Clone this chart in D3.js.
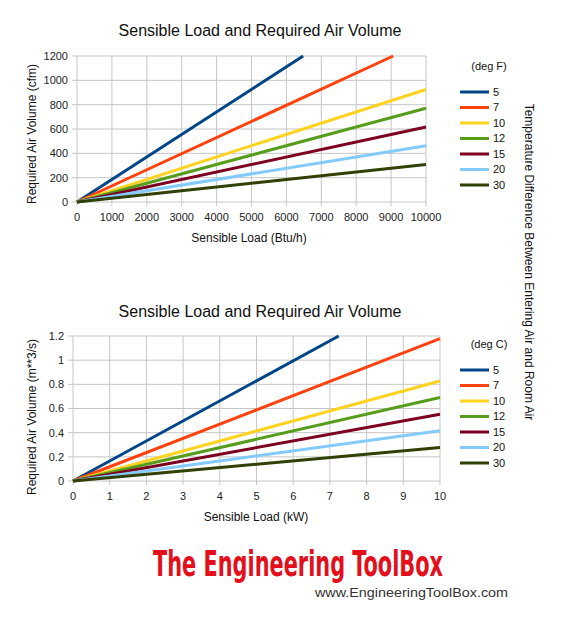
<!DOCTYPE html>
<html>
<head>
<meta charset="utf-8">
<script src="https://cdn.jsdelivr.net/npm/d3@7"></script>
<style>
  body { margin: 0; background: #fff; }
  svg { display: block; font-family: "Liberation Sans", Arial, sans-serif; }
</style>
</head>
<body>
<svg id="chart" width="562" height="636"></svg>
<script>
// Series: temperature differences and the end point of each straight line (all start at 0,0)
const tempDiff = ["5", "7", "10", "12", "15", "20", "30"];
const colors = ["#004586", "#ff420e", "#ffd320", "#579d1c", "#7e0021", "#83caff", "#314004"];

// Imperial chart
const loadBtuEnd = [6480, 9060, 10000, 10000, 10000, 10000, 10000];
const cfmEnd = [1200, 1200, 925, 771, 617, 463, 309];
const btuTicks = [0, 1000, 2000, 3000, 4000, 5000, 6000, 7000, 8000, 9000, 10000];
const cfmTicks = [0, 200, 400, 600, 800, 1000, 1200];

// Metric chart
const loadKwEnd = [7.24, 10, 10, 10, 10, 10, 10];
const m3sEnd = [1.2, 1.178, 0.828, 0.691, 0.553, 0.415, 0.278];
const kwTicks = [0, 1, 2, 3, 4, 5, 6, 7, 8, 9, 10];
const m3sTicks = [0, 0.2, 0.4, 0.6, 0.8, 1, 1.2];

const svg = d3.select("#chart");

function drawPanel(opt) {
  const x = d3.scaleLinear().domain([0, d3.max(opt.xTicks)]).range([opt.left, opt.right]);
  const y = d3.scaleLinear().domain([0, d3.max(opt.yTicks)]).range([opt.bottom, opt.top]);
  const g = svg.append("g");

  // Grid
  g.append("g")
    .selectAll("line")
    .data(opt.xTicks)
    .join("line")
    .attr("x1", d => x(d)).attr("x2", d => x(d))
    .attr("y1", opt.top).attr("y2", opt.bottom + 4)
    .attr("stroke", "#c6c6c6").attr("stroke-width", 1);
  g.append("g")
    .selectAll("line")
    .data(opt.yTicks)
    .join("line")
    .attr("x1", opt.left - 5).attr("x2", opt.right)
    .attr("y1", d => y(d)).attr("y2", d => y(d))
    .attr("stroke", "#c6c6c6").attr("stroke-width", 1);

  // Tick labels
  g.append("g")
    .selectAll("text")
    .data(opt.xTicks)
    .join("text")
    .attr("x", d => x(d))
    .attr("y", opt.bottom + 19)
    .attr("text-anchor", "middle")
    .attr("font-size", "11px")
    .attr("fill", "#222")
    .text(d => d);
  g.append("g")
    .selectAll("text")
    .data(opt.yTicks)
    .join("text")
    .attr("x", opt.left - 9)
    .attr("y", d => y(d))
    .attr("dy", "0.35em")
    .attr("text-anchor", "end")
    .attr("font-size", "11px")
    .attr("fill", "#222")
    .text(d => d);

  // Lines
  const line = d3.line().x(d => x(d[0])).y(d => y(d[1]));
  g.append("g")
    .attr("fill", "none")
    .selectAll("path")
    .data(tempDiff.map((t, i) => ({ i, pts: [[0, 0], [opt.xEnd[i], opt.yEnd[i]]] })))
    .join("path")
    .attr("d", d => line(d.pts))
    .attr("stroke", d => colors[d.i])
    .attr("stroke-width", 3);

  // Title and axis titles
  g.append("text")
    .attr("x", 260).attr("y", opt.titleY)
    .attr("text-anchor", "middle")
    .attr("font-size", "16px")
    .attr("fill", "#111")
    .text("Sensible Load and Required Air Volume");
  g.append("text")
    .attr("x", opt.xTitleX).attr("y", opt.bottom + 40)
    .attr("text-anchor", "middle")
    .attr("font-size", "12px")
    .attr("fill", "#111")
    .text(opt.xTitle);
  g.append("text")
    .attr("transform", `translate(36, ${opt.yTitleY}) rotate(-90)`)
    .attr("text-anchor", "middle")
    .attr("font-size", "12px")
    .attr("fill", "#111")
    .text(opt.yTitle);

  // Legend
  const lg = g.append("g");
  lg.append("text")
    .attr("x", 489).attr("y", opt.legendTop)
    .attr("text-anchor", "middle")
    .attr("font-size", "11px")
    .attr("fill", "#111")
    .text(opt.unit);
  tempDiff.forEach((t, i) => {
    const yy = opt.legendTop + 22 + i * 15.5;
    lg.append("line")
      .attr("x1", 460).attr("x2", 489)
      .attr("y1", yy).attr("y2", yy)
      .attr("stroke", colors[i]).attr("stroke-width", 3);
    lg.append("text")
      .attr("x", 493).attr("y", yy)
      .attr("dy", "0.35em")
      .attr("font-size", "11px")
      .attr("fill", "#111")
      .text(t);
  });
}

drawPanel({
  left: 77, right: 426, top: 56, bottom: 202,
  xTicks: btuTicks, yTicks: cfmTicks,
  xEnd: loadBtuEnd, yEnd: cfmEnd,
  titleY: 36, xTitle: "Sensible Load (Btu/h)", xTitleX: 249,
  yTitle: "Required Air Volume (cfm)", yTitleY: 134,
  unit: "(deg F)", legendTop: 70
});

drawPanel({
  left: 73, right: 440, top: 336, bottom: 481,
  xTicks: kwTicks, yTicks: m3sTicks,
  xEnd: loadKwEnd, yEnd: m3sEnd,
  titleY: 317, xTitle: "Sensible Load (kW)", xTitleX: 256,
  yTitle: "Required Air Volume (m**3/s)", yTitleY: 417,
  unit: "(deg C)", legendTop: 348
});

// Shared legend title on the right
svg.append("text")
  .attr("transform", "translate(525, 262) rotate(90)")
  .attr("text-anchor", "middle")
  .attr("font-size", "12px")
  .attr("fill", "#111")
  .text("Temperature Difference Between Entering Air and Room Air");

// Branding
svg.append("text")
  .attr("x", 153).attr("y", 576)
  .attr("textLength", 290)
  .attr("lengthAdjust", "spacingAndGlyphs")
  .attr("font-family", "'Liberation Sans Narrow', 'DejaVu Sans Condensed', sans-serif")
  .attr("font-weight", "bold")
  .attr("font-size", "36px")
  .attr("fill", "#e3101b")
  .text("The Engineering ToolBox");
svg.append("text")
  .attr("x", 315).attr("y", 597)
  .attr("textLength", 193)
  .attr("lengthAdjust", "spacingAndGlyphs")
  .attr("font-size", "13px")
  .attr("fill", "#333")
  .text("www.EngineeringToolBox.com");
</script>
</body>
</html>
